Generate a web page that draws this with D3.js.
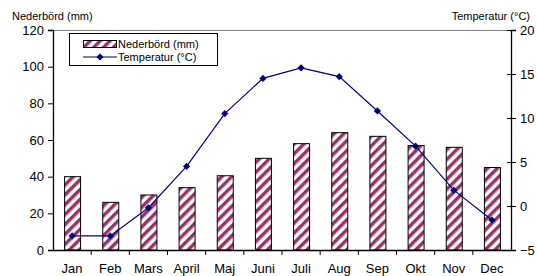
<!DOCTYPE html>
<html>
<head>
<meta charset="utf-8">
<script src="https://cdn.jsdelivr.net/npm/d3@7"></script>
<style>
  body { margin: 0; background: #fff; }
  text { font-family: "Liberation Sans", Arial, sans-serif; }
</style>
</head>
<body>
<svg id="chart" width="537" height="276"></svg>
<script>
// data
var months = ["Jan", "Feb", "Mars", "April", "Maj", "Juni", "Juli", "Aug", "Sep", "Okt", "Nov", "Dec"];
var precip = [40, 26, 30, 34, 40.5, 50, 58, 64, 62, 57, 56, 45];
var temp = [-3.4, -3.4, -0.2, 4.5, 10.5, 14.5, 15.7, 14.7, 10.8, 6.8, 1.8, -1.6];
var leftTicks = [0, 20, 40, 60, 80, 100, 120];
var rightTicks = [-5, 0, 5, 10, 15, 20];

var svg = d3.select("#chart");
var plotLeft = 53, plotRight = 511, plotTop = 30, plotBottom = 250;

var x = d3.scaleBand().domain(months).range([plotLeft, plotRight]);
var yL = d3.scaleLinear().domain([0, 120]).range([plotBottom, plotTop]);
var yR = d3.scaleLinear().domain([-5, 20]).range([plotBottom, plotTop]);

// stripe pattern
var pat = svg.append("defs").append("pattern")
    .attr("id", "stripes")
    .attr("patternUnits", "userSpaceOnUse")
    .attr("width", 7).attr("height", 7)
    .attr("patternTransform", "rotate(45)");
pat.append("rect").attr("width", 7).attr("height", 7).attr("fill", "#fff");
pat.append("rect").attr("width", 3.5).attr("height", 7).attr("fill", "#993366");

// top frame line
svg.append("line")
    .attr("x1", plotLeft).attr("x2", plotRight).attr("y1", plotTop + 0.5).attr("y2", plotTop + 0.5)
    .attr("stroke", "#808080");

// bars
var bw = 16;
svg.selectAll(".bar").data(precip).enter().append("rect")
    .attr("class", "bar")
    .attr("x", function(d, i){ return x(months[i]) + x.bandwidth()/2 - bw/2 + 0.5 })
    .attr("y", function(d){ return yL(d) })
    .attr("width", bw)
    .attr("height", function(d){ return plotBottom - yL(d) })
    .attr("fill", "url(#stripes)")
    .attr("stroke", "#000").attr("stroke-width", 1);

// axes
var axL = svg.append("g").attr("transform", "translate(" + plotLeft + ",0)")
    .call(d3.axisLeft(yL).tickValues(leftTicks).tickSize(5).tickPadding(4));
var axR = svg.append("g").attr("transform", "translate(" + plotRight + ",0)")
    .call(d3.axisRight(yR).tickValues(rightTicks).tickSize(5).tickPadding(4));
axR.selectAll(".tick line").attr("x1", -4);
var axB = svg.append("g").attr("transform", "translate(0," + plotBottom + ")")
    .call(d3.axisBottom(x).tickSize(0).tickPadding(14));

[axL, axR, axB].forEach(function(g){
    g.select(".domain").attr("stroke", "#000").attr("stroke-width", 1.3);
    g.selectAll(".tick line").attr("stroke", "#000");
    g.selectAll("text").attr("font-size", 13).attr("fill", "#000")
        .attr("font-family", '"Liberation Sans", Arial, sans-serif');
});

// category boundary ticks
svg.append("g").selectAll("line").data(months.slice(1)).enter().append("line")
    .attr("x1", function(d){ return x(d) }).attr("x2", function(d){ return x(d) })
    .attr("y1", plotBottom).attr("y2", plotBottom + 5)
    .attr("stroke", "#000");

// temperature line
var line = d3.line()
    .x(function(d, i){ return x(months[i]) + x.bandwidth()/2 })
    .y(function(d){ return yR(d) });
svg.append("path").datum(temp)
    .attr("d", line).attr("fill", "none")
    .attr("stroke", "#000080").attr("stroke-width", 1.2);
// square turned 45° gives the excel-style diamond
var diamond = d3.symbol().type(d3.symbolSquare).size(26);
svg.selectAll(".pt").data(temp).enter().append("path")
    .attr("class", "pt")
    .attr("d", diamond)
    .attr("transform", function(d, i){ return "translate(" + (x(months[i]) + x.bandwidth()/2) + "," + yR(d) + ") rotate(45)" })
    .attr("fill", "#000080");

// axis titles
svg.append("text").attr("x", 12).attr("y", 20).attr("font-size", 11).text("Nederbörd (mm)");
svg.append("text").attr("x", 530).attr("y", 20).attr("font-size", 11)
    .attr("text-anchor", "end").text("Temperatur (°C)");

// legend
var lg = svg.append("g");
lg.append("rect").attr("x", 69.5).attr("y", 33.5).attr("width", 148).attr("height", 32)
    .attr("fill", "#fff").attr("stroke", "#000");
lg.append("rect").attr("x", 83.5).attr("y", 40.5).attr("width", 33).attr("height", 7)
    .attr("fill", "url(#stripes)").attr("stroke", "#000");
lg.append("text").attr("x", 118).attr("y", 48).attr("font-size", 11).text("Nederbörd (mm)");
lg.append("line").attr("x1", 83).attr("x2", 117).attr("y1", 57).attr("y2", 57)
    .attr("stroke", "#000080").attr("stroke-width", 1.2);
lg.append("path").attr("d", diamond).attr("transform", "translate(100,57) rotate(45)").attr("fill", "#000080");
lg.append("text").attr("x", 118).attr("y", 61).attr("font-size", 11).text("Temperatur (°C)");
</script>
</body>
</html>
